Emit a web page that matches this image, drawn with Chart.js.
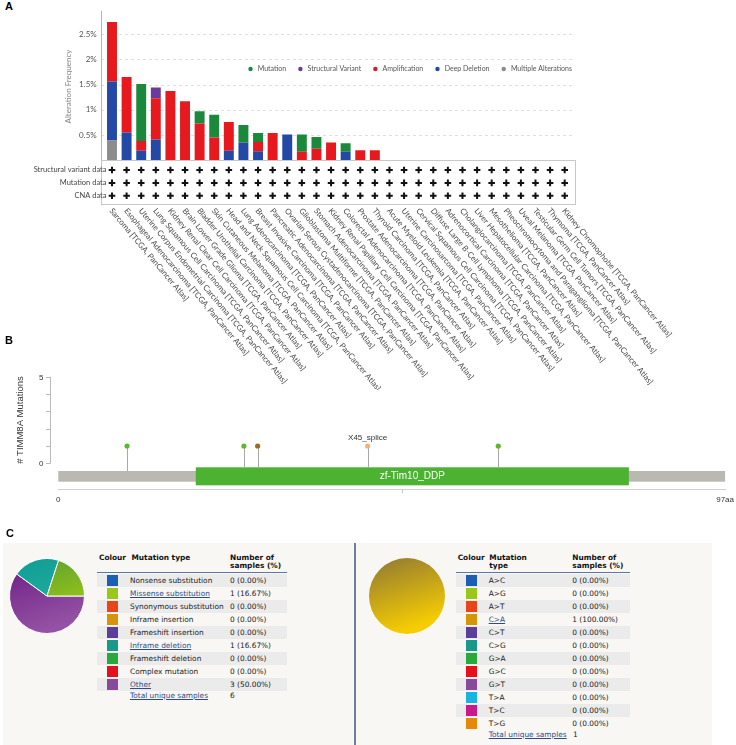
<!DOCTYPE html>
<html><head><meta charset="utf-8">
<script src="https://cdn.jsdelivr.net/npm/chart.js@4.4.1/dist/chart.umd.min.js"></script>
<style>
body{margin:0;width:736px;height:745px;position:relative;background:#fff;overflow:hidden;font-family:"DejaVu Sans",sans-serif}
.pl{position:absolute;font:bold 11px "Liberation Sans",Arial,sans-serif;color:#000}
canvas{position:absolute}
.box{position:absolute;top:543px;height:202px;background:#f8f7f3}
.t{position:absolute;font-size:7.4px;color:#222;white-space:nowrap;line-height:13px}
.h{position:absolute;font-size:7.4px;font-weight:bold;color:#111;white-space:nowrap;line-height:8.7px}
.lk{color:#2d4b8c;text-decoration:underline}
</style></head>
<body>
<div class="pl" style="left:5px;top:0px">A</div>
<canvas id="cA" width="736" height="390" style="left:0;top:0"></canvas>
<div class="pl" style="left:5px;top:334px">B</div>
<canvas id="cB" width="736" height="150" style="left:0;top:360px"></canvas>
<div class="pl" style="left:6px;top:527px">C</div>
<div class="box" style="left:3px;width:351px"></div>
<div style="position:absolute;left:354px;top:543px;width:1.5px;height:202px;background:#6a7fa6"></div>
<div class="box" style="left:356px;width:356px"></div>
<canvas id="pL" width="76" height="76" style="left:8.7px;top:558px"></canvas>
<canvas id="pR" width="76" height="76" style="left:368.7px;top:558px"></canvas>
<div id="tables"></div>
<script>
// ---------- Panel A data ----------
const cancerStudies = [
 'Sarcoma [TCGA, PanCancer Atlas]',
 'Esophageal Adenocarcinoma [TCGA, PanCancer Atlas]',
 'Uterine Corpus Endometrial Carcinoma [TCGA, PanCancer Atlas]',
 'Lung Squamous Cell Carcinoma [TCGA, PanCancer Atlas]',
 'Kidney Renal Clear Cell Carcinoma [TCGA, PanCancer Atlas]',
 'Brain Lower Grade Glioma [TCGA, PanCancer Atlas]',
 'Bladder Urothelial Carcinoma [TCGA, PanCancer Atlas]',
 'Skin Cutaneous Melanoma [TCGA, PanCancer Atlas]',
 'Head and Neck Squamous Cell Carcinoma [TCGA, PanCancer Atlas]',
 'Lung Adenocarcinoma [TCGA, PanCancer Atlas]',
 'Breast Invasive Carcinoma [TCGA, PanCancer Atlas]',
 'Pancreatic Adenocarcinoma [TCGA, PanCancer Atlas]',
 'Ovarian Serous Cystadenocarcinoma [TCGA, PanCancer Atlas]',
 'Glioblastoma Multiforme [TCGA, PanCancer Atlas]',
 'Stomach Adenocarcinoma [TCGA, PanCancer Atlas]',
 'Kidney Renal Papillary Cell Carcinoma [TCGA, PanCancer Atlas]',
 'Colorectal Adenocarcinoma [TCGA, PanCancer Atlas]',
 'Prostate Adenocarcinoma [TCGA, PanCancer Atlas]',
 'Thyroid Carcinoma [TCGA, PanCancer Atlas]',
 'Acute Myeloid Leukemia [TCGA, PanCancer Atlas]',
 'Uterine Carcinosarcoma [TCGA, PanCancer Atlas]',
 'Cervical Squamous Cell Carcinoma [TCGA, PanCancer Atlas]',
 'Diffuse Large B-Cell Lymphoma [TCGA, PanCancer Atlas]',
 'Adrenocortical Carcinoma [TCGA, PanCancer Atlas]',
 'Cholangiocarcinoma [TCGA, PanCancer Atlas]',
 'Liver Hepatocellular Carcinoma [TCGA, PanCancer Atlas]',
 'Mesothelioma [TCGA, PanCancer Atlas]',
 'Pheochromocytoma and Paraganglioma [TCGA, PanCancer Atlas]',
 'Uveal Melanoma [TCGA, PanCancer Atlas]',
 'Testicular Germ Cell Tumors [TCGA, PanCancer Atlas]',
 'Thymoma [TCGA, PanCancer Atlas]',
 'Kidney Chromophobe [TCGA, PanCancer Atlas]'
];
const multipleAlterations = [0.39,0,0,0,0,0,0,0,0,0,0,0,0,0,0,0,0,0,0,0,0,0,0,0,0,0,0,0,0,0,0,0];
const deepDeletion        = [1.17,0.55,0.19,0.41,0,0,0,0,0.19,0.35,0.18,0,0.51,0,0,0,0.17,0,0,0,0,0,0,0,0,0,0,0,0,0,0,0];
const amplification       = [1.18,1.10,0.19,0.82,1.37,1.17,0.73,0.45,0.57,0,0.18,0.54,0,0.17,0.23,0.35,0,0.20,0.20,0,0,0,0,0,0,0,0,0,0,0,0,0];
const mutation            = [0,0,1.13,0,0,0,0.24,0.45,0,0.35,0.18,0,0,0.34,0.23,0,0.17,0,0,0,0,0,0,0,0,0,0,0,0,0,0,0];
const structuralVariant   = [0,0,0,0.21,0,0,0,0,0,0,0,0,0,0,0,0,0,0,0,0,0,0,0,0,0,0,0,0,0,0,0,0];
const profiledRows = ['Structural variant data','Mutation data','CNA data'];
const legendOrder = ['Mutation','Structural Variant','Amplification','Deep Deletion','Multiple Alterations'];
const yTicksA = [0.5,1,1.5,2,2.5];

// ---------- Panel B data ----------
const proteinLength = 97;
const domainName = 'zf-Tim10_DDP';
const domainStart = 20, domainEnd = 83;
const mutationPositions = [10,27,29,45,64];
const mutationCounts = [1,1,1,1,1];
const mutationColours = ['#5cb82e','#5cb82e','#9c6a24','#f0b27a','#5cb82e'];
const mutationLabels = ['','','','X45_splice',''];

// ---------- Panel C data ----------
const mutTypes = ['Nonsense substitution','Missense substitution','Synonymous substitution','Inframe insertion','Frameshift insertion','Inframe deletion','Frameshift deletion','Complex mutation','Other'];
const mutTypeCounts = [0,1,0,0,0,1,0,0,3];
const mutTypePercents = [0,16.67,0,0,0,16.67,0,0,50.00];
const mutTypeColours = ['#1a5fb4','#9ac81a','#e8461a','#d4950a','#5a3e9a','#179a8c','#2aa83c','#e5101e','#8a4a9c'];
const mutTypeTotal = 6;
const subTypes = ['A>C','A>G','A>T','C>A','C>T','C>G','G>A','G>C','G>T','T>A','T>C','T>G'];
const subCounts = [0,0,0,1,0,0,0,0,0,0,0,0];
const subPercents = [0,0,0,100,0,0,0,0,0,0,0,0];
const subColours = ['#1a5fb4','#9ac81a','#e8461a','#d4950a','#5a3e9a','#179a8c','#2aa83c','#e5101e','#8a4a9c','#1ab4e0','#c81a8a','#e8880a'];
const subTotal = 1;

// ================= Panel A =================
const colA = {'Multiple Alterations':'#8c8c8c','Deep Deletion':'#2448a5','Amplification':'#e6191f','Mutation':'#1b893c','Structural Variant':'#6b3a9b'};
const FONT_A = 'Lato, "Open Sans", sans-serif';
const AX_L = 101, AX_R = 575;
const panelA = {
  id:'panelA',
  beforeDatasetsDraw(chart){
    const {ctx, scales:{y}} = chart;
    ctx.save();
    ctx.strokeStyle = '#dedede'; ctx.lineWidth = 1; ctx.setLineDash([3,3]);
    y.ticks.forEach(t => {
      if (t.value <= 0) return;
      const py = Math.round(y.getPixelForValue(t.value)) + 0.5;
      ctx.beginPath(); ctx.moveTo(AX_L, py); ctx.lineTo(AX_R, py); ctx.stroke();
    });
    ctx.restore();
  },
  afterDraw(chart){
    const {ctx, chartArea:a, scales:{x}} = chart;
    const b = a.bottom;
    ctx.save();
    ctx.strokeStyle = '#b5b5b5'; ctx.lineWidth = 1;
    ctx.beginPath(); ctx.moveTo(AX_L+0.5, a.top-2); ctx.lineTo(AX_L+0.5, b+45); ctx.stroke();
    ctx.strokeStyle = '#c8c8c8';
    ctx.strokeRect(AX_L+0.5, Math.round(b)+0.5, AX_R-AX_L, 44);
    ctx.font = '7.5px ' + FONT_A; ctx.fillStyle = '#444'; ctx.textAlign = 'right'; ctx.textBaseline = 'middle';
    profiledRows.forEach((r,i) => {
      const ry = b + 9.7 + i*12.9;
      ctx.fillText(r, 106.5, ry);
      ctx.strokeStyle = '#111'; ctx.lineWidth = 2;
      chart.data.labels.forEach((_,j) => {
        const px = x.getPixelForValue(j);
        ctx.beginPath(); ctx.moveTo(px-3.3, ry); ctx.lineTo(px+3.3, ry); ctx.moveTo(px, ry-3.3); ctx.lineTo(px, ry+3.3); ctx.stroke();
      });
    });
    ctx.font = '8px ' + FONT_A; ctx.fillStyle = '#4a4a4a'; ctx.textAlign = 'left'; ctx.textBaseline = 'middle';
    chart.data.labels.forEach((lab,j) => {
      const px = x.getPixelForValue(j);
      ctx.save(); ctx.translate(px - 1, b + 49); ctx.rotate(50*Math.PI/180); ctx.fillText(lab, 0, 0); ctx.restore();
    });
    ctx.font = '7px ' + FONT_A; ctx.textBaseline = 'middle';
    const gapDot = 5, gapItem = 12, r = 2.2;
    let total = 0;
    legendOrder.forEach((l,i) => { total += 2*r + gapDot + ctx.measureText(l).width + (i ? gapItem : 0); });
    let lx = a.right - total; const ly = 69;
    legendOrder.forEach(l => {
      ctx.fillStyle = colA[l];
      ctx.beginPath(); ctx.arc(lx + r, ly, r, 0, Math.PI*2); ctx.fill();
      lx += 2*r + gapDot;
      ctx.fillStyle = '#555'; ctx.fillText(l, lx, ly);
      lx += ctx.measureText(l).width + gapItem;
    });
    ctx.restore();
  }
};
new Chart(document.getElementById('cA'), {
  type:'bar',
  data:{
    labels: cancerStudies,
    datasets:[
      {label:'Multiple Alterations', data:multipleAlterations},
      {label:'Deep Deletion', data:deepDeletion},
      {label:'Amplification', data:amplification},
      {label:'Mutation', data:mutation},
      {label:'Structural Variant', data:structuralVariant}
    ].map(d => Object.assign(d, {backgroundColor: colA[d.label], categoryPercentage:1, barPercentage:0.68}))
  },
  options:{
    responsive:false, animation:false, devicePixelRatio:1,
    layout:{padding:{left:60.7, right:164, top:3.7, bottom:229.7}},
    plugins:{legend:{display:false}, tooltip:{enabled:false}},
    scales:{
      x:{stacked:true, display:false},
      y:{stacked:true, min:0, max:2.92,
         afterBuildTicks: s => { s.ticks = [0].concat(yTicksA).map(v => ({value:v})); },
         afterFit: s => { s.width = 44; },
         ticks:{callback: v => v === 0 ? '' : v + '%', padding:8, color:'#555', font:{family:FONT_A, size:8}},
         grid:{display:false, drawTicks:false}, border:{display:false},
         title:{display:true, text:'Alteration Frequency', color:'#888', padding:{top:3,bottom:3}, font:{family:FONT_A, size:8}}}
    }
  },
  plugins:[panelA]
});

// ================= Panel B =================
const panelB = {
  id:'panelB',
  beforeDatasetsDraw(chart){
    const {ctx, scales:{x,y}} = chart;
    ctx.save();
    const X = v => x.getPixelForValue(v), Y = v => y.getPixelForValue(v);
    ctx.fillStyle = '#b9b9b2';
    ctx.fillRect(X(0), Y(-0.444), X(proteinLength)-X(0), Y(-1.06)-Y(-0.444));
    ctx.fillStyle = '#4bb232';
    ctx.fillRect(X(domainStart), Y(-0.23), X(domainEnd)-X(domainStart), Y(-1.27)-Y(-0.23));
    ctx.fillStyle = '#fff'; ctx.font = '10px "Liberation Sans", Arial, sans-serif'; ctx.textAlign = 'center'; ctx.textBaseline = 'middle';
    ctx.fillText(domainName, (X(domainStart)+X(domainEnd))/2, Y(-0.72));
    ctx.strokeStyle = '#a8a8a8'; ctx.lineWidth = 1;
    mutationPositions.forEach((p,i) => {
      const inDom = p >= domainStart && p <= domainEnd;
      const px = Math.round(X(p)) + 0.5;
      ctx.beginPath(); ctx.moveTo(px, Y(mutationCounts[i])); ctx.lineTo(px, Y(inDom ? -0.23 : -0.444)); ctx.stroke();
    });
    ctx.fillStyle = '#333'; ctx.font = '8px "Liberation Sans", Arial, sans-serif'; ctx.textBaseline = 'alphabetic';
    mutationLabels.forEach((l,i) => { if (l) ctx.fillText(l, X(mutationPositions[i]), Y(mutationCounts[i]) - 6); });
    const ax = 50.5;
    ctx.strokeStyle = '#bbb';
    ctx.beginPath(); ctx.moveTo(ax, Y(5)); ctx.lineTo(ax, Y(0)); ctx.stroke();
    ctx.textAlign = 'right'; ctx.textBaseline = 'middle'; ctx.fillStyle = '#333';
    [0,1,2,3,4,5].forEach(v => {
      const py = Math.round(Y(v)) + 0.5;
      ctx.beginPath(); ctx.moveTo(ax-4.5, py); ctx.lineTo(ax, py); ctx.stroke();
      if (v === 0 || v === 5) ctx.fillText(String(v), 43.5, py);
    });
    ctx.font = '9.5px "Liberation Sans", Arial, sans-serif'; ctx.fillStyle = '#333'; ctx.textAlign = 'center';
    ctx.translate(20.7, (Y(5)+Y(0))/2); ctx.rotate(-Math.PI/2); ctx.fillText('# TIMM8A Mutations', 0, 0);
    ctx.restore();
  }
};
new Chart(document.getElementById('cB'), {
  type:'scatter',
  data:{datasets:[{
    data: mutationPositions.map((p,i) => ({x:p, y:mutationCounts[i]})),
    pointBackgroundColor: mutationColours, pointBorderWidth:0, pointRadius:2.6
  }]},
  options:{
    responsive:false, animation:false, devicePixelRatio:1,
    layout:{padding:{left:58.3, right:8.3, top:16.7, bottom:0.7}},
    plugins:{legend:{display:false}, tooltip:{enabled:false}},
    scales:{
      x:{type:'linear', min:0, max:proteinLength,
         afterBuildTicks: s => { s.ticks = [0,50,proteinLength].map(v => ({value:v})); },
         afterFit: s => { s.height = 20; },
         ticks:{callback: v => v === 0 ? '0' : (v === proteinLength ? proteinLength + 'aa' : ''), padding:2, maxRotation:0, autoSkip:false, color:'#333', font:{family:'"Liberation Sans", Arial, sans-serif', size:8}},
         grid:{drawOnChartArea:false, tickLength:4, color: c => (c.tick && c.tick.value === 50) ? '#c8c8c8' : 'rgba(0,0,0,0)'},
         border:{color:'#d0d0d0'}},
      y:{display:false, min:-1.5, max:5}
    }
  },
  plugins:[panelB]
});

// ================= Panel C =================
const pieGrad = {
  '#9ac81a':['#559b34','#a4cc12'],
  '#179a8c':['#0f9b93','#24b4a4'],
  '#8a4a9c':['#6c1c84','#9452a4'],
  '#d4950a':['#8e7733','#f6cd02']
};
function gradFill(ctx){
  const col = ctx.dataset.baseColours[ctx.dataIndex];
  const a = ctx.chart.chartArea;
  if (!a || !pieGrad[col]) return col;
  const g = ctx.chart.ctx.createLinearGradient(a.left, a.top, a.left + (a.right-a.left)*0.35, a.bottom);
  g.addColorStop(0, pieGrad[col][0]); g.addColorStop(1, pieGrad[col][1]);
  return g;
}
function makePie(id, counts, colours, bw){
  const c = counts.slice().reverse(), k = colours.slice().reverse();
  new Chart(document.getElementById(id), {
    type:'pie',
    data:{labels:c.map((_,i)=>i), datasets:[{data:c, baseColours:k, backgroundColor:gradFill,
      borderColor:'#ffffff', borderWidth: ctx => (ctx.raw > 0 ? bw : 0)}]},
    options:{responsive:false, animation:false, devicePixelRatio:1, rotation:90,
      plugins:{legend:{display:false}, tooltip:{enabled:false}}}
  });
}
makePie('pL', mutTypeCounts, mutTypeColours, 1);
makePie('pR', subCounts, subColours, 0);

function buildTable(opt){
  const host = document.getElementById('tables');
  let h = '';
  h += `<div style="position:absolute;left:${opt.x0}px;top:572px;width:${opt.x1-opt.x0}px;height:1.4px;background:#5a77a6"></div>`;
  opt.headers.forEach(hd => { h += `<div class="h" style="left:${hd.x}px;top:553.5px">${hd.t}</div>`; });
  opt.types.forEach((t,i) => {
    const top = 573.5 + i*13;
    if (i % 2 === 0) h += `<div style="position:absolute;left:${opt.x0}px;top:${top}px;width:${opt.x1-opt.x0}px;height:13px;background:#ebebeb"></div>`;
    h += `<div style="position:absolute;left:${opt.sw}px;top:${top+1}px;width:10.5px;height:11px;background:${opt.colours[i]}"></div>`;
    const lk = opt.counts[i] > 0 ? 'lk' : '';
    h += `<div class="t" style="left:${opt.tx}px;top:${top}px"><span class="${lk}">${t.replace(/>/g,'&gt;')}</span></div>`;
    h += `<div class="t" style="left:${opt.nx}px;top:${top}px">${opt.counts[i]} (${opt.pcts[i].toFixed(2)}%)</div>`;
  });
  const tt = 573.5 + opt.types.length*13 - 1.5;
  h += `<div class="t" style="left:${opt.tx}px;top:${tt}px"><span class="lk">Total unique samples</span></div>`;
  h += `<div class="t" style="left:${opt.tot}px;top:${tt}px">${opt.total}</div>`;
  host.insertAdjacentHTML('beforeend', h);
}
buildTable({x0:96.7, x1:286.7, sw:107.3, tx:130, nx:230, tot:230, types:mutTypes, counts:mutTypeCounts, pcts:mutTypePercents, colours:mutTypeColours, total:mutTypeTotal,
  headers:[{x:99,t:'Colour'},{x:131.5,t:'Mutation type'},{x:230,t:'Number of<br>samples (%)'}]});
buildTable({x0:455.7, x1:630, sw:466, tx:488.7, nx:572.3, tot:573, types:subTypes, counts:subCounts, pcts:subPercents, colours:subColours, total:subTotal,
  headers:[{x:457.7,t:'Colour'},{x:489.3,t:'Mutation<br>type'},{x:572.3,t:'Number of<br>samples (%)'}]});
</script>
</body></html>
